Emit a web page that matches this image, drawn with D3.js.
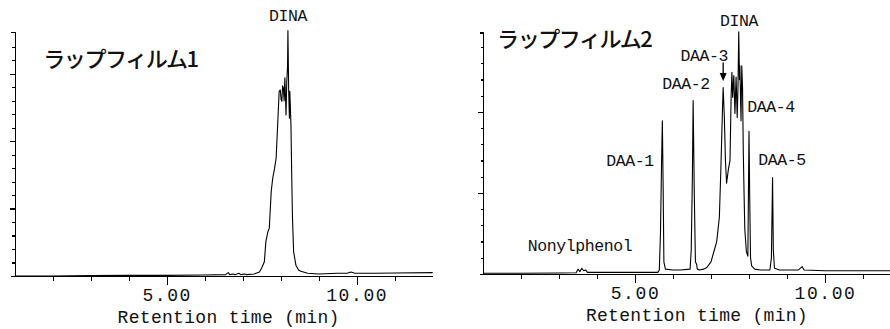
<!DOCTYPE html>
<html>
<head>
<meta charset="utf-8">
<title>ラップフィルム chromatograms</title>
<script src="https://cdn.jsdelivr.net/npm/d3@7"></script>
<style>
  body { margin: 0; background: #fff; }
  svg { display: block; }
  .trace { fill: none; stroke: #000; stroke-width: 1.1; stroke-linejoin: round; }
  .axis line, .axis path { stroke: #000; stroke-width: 1.2; shape-rendering: crispEdges; }
  .axis path { fill: none; }
  .mono { font-family: "Liberation Mono", "DejaVu Sans Mono", monospace; fill: #111; }
  .jp { font-family: "Noto Sans CJK JP", sans-serif; font-weight: 500; fill: #111; }
</style>
</head>
<body>
<script>
// ---- data (time in min, signal in arbitrary units) ----
const film1Time = [1, 2, 3, 4, 5, 6, 6.55, 6.62, 6.66, 6.75, 6.8, 6.9, 6.95, 7.05, 7.1, 7.3, 7.44, 7.5, 7.57, 7.61, 7.66, 7.7,
  7.75, 7.79, 7.84, 7.88, 7.92, 7.96, 7.99, 8.01, 8.03, 8.05, 8.07, 8.09, 8.11, 8.14, 8.16, 8.18, 8.19, 8.21, 8.23, 8.24,
  8.27, 8.29, 8.31, 8.34, 8.4, 8.47, 8.53, 8.71, 9, 9.5, 9.75, 9.85, 9.95, 10.5, 11, 12];
const film1Signal = [0, 0, 0.005, 0.01, 0.01, 0.015, 0.02, 0.05, 0.02, 0.03, 0.02, 0.04, 0.02, 0.03, 0.02, 0.03, 0.06, 0.12, 0.21, 0.51, 0.65, 0.71,
  1.25, 1.45, 1.6, 1.75, 2.24, 2.74, 2.76, 2.62, 2.59, 2.82, 2.79, 2.6, 2.94, 2.39, 2.89, 3.1, 3.64, 2.74, 2.34, 2.74,
  2.24, 1.5, 0.86, 0.36, 0.16, 0.09, 0.07, 0.04, 0.03, 0.04, 0.04, 0.06, 0.04, 0.04, 0.045, 0.05];

const film2Time = [1, 2, 3, 3.45, 3.5, 3.55, 3.6, 3.65, 3.7, 3.75, 4, 5, 5.6, 5.64, 5.67, 5.7, 5.72, 5.74, 5.76, 5.8, 6, 6.2,
  6.45, 6.48, 6.51, 6.53, 6.56, 6.59, 6.62, 6.64, 6.7, 6.8, 6.89, 7, 7.06, 7.15, 7.22, 7.26, 7.3, 7.32, 7.35, 7.38, 7.41,
  7.46, 7.5, 7.53, 7.55, 7.57, 7.6, 7.63, 7.66, 7.69, 7.71, 7.73, 7.75, 7.76, 7.79, 7.81, 7.83, 7.85, 7.87, 7.89, 7.93,
  7.97, 8, 8.02, 8.04, 8.07, 8.15, 8.3, 8.55, 8.59, 8.62, 8.64, 8.67, 8.8, 9.3, 9.4, 9.45, 10, 11, 12];
const film2Signal = [0.01, 0.01, 0.012, 0.015, 0.06, 0.03, 0.07, 0.04, 0.05, 0.02, 0.02, 0.02, 0.02, 0.05, 0.5, 1.4, 1.89, 1.1, 0.15, 0.06, 0.05, 0.05,
  0.06, 0.3, 1.2, 2.14, 1.0, 0.15, 0.12, 0.06, 0.05, 0.06, 0.08, 0.15, 0.25, 0.4, 0.7, 1.3, 2.0, 2.3, 1.95, 1.4, 1.12,
  1.3, 1.4, 2.2, 2.49, 2.18, 2.45, 1.98, 2.43, 1.93, 2.3, 2.99, 2.4, 2.57, 1.89, 2.57, 2.3, 1.5, 1.0, 0.55, 0.28,
  0.22, 1.76, 0.9, 0.2, 0.1, 0.06, 0.05, 0.05, 0.2, 1.19, 0.3, 0.07, 0.05, 0.05, 0.09, 0.05, 0.04, 0.04, 0.04];

const film1Labels = ["DINA"];
const film1LabelTime = [8.19];
const film1LabelSignal = [3.85];

const film2Labels = ["DAA-1", "DAA-2", "DAA-3", "DINA", "DAA-4", "DAA-5", "Nonylphenol"];
const film2LabelTime = [4.87, 6.34, 6.82, 7.74, 8.58, 8.87, 3.55];
const film2LabelSignal = [1.39, 2.34, 2.68, 3.12, 2.05, 1.40, 0.34];

const titles = ["ラップフィルム1", "ラップフィルム2"];
const titleTime = [1.75, 1.37];
const titleSignal = [3.25, 2.92];

const xMinorTicks = [2, 3, 4, 6, 7, 8, 9, 11];
const xMajorTicks = [5, 10];
const xTickLabels = ["5.00", "10.00"];
const xAxisTitle = "Retention time (min)";
const timeDomain = [1, 12];

const W = 890, H = 329;
const svg = d3.select("body").append("svg").attr("width", W).attr("height", H);

function panel(opts) {
  const x = d3.scaleLinear().domain(timeDomain).range(opts.xRange);
  const y = d3.scaleLinear().domain([0, opts.yMax]).range([opts.base, opts.top]);
  const g = svg.append("g");

  // y axis: minor ticks every 0.2, longer ticks at integers
  const yMinor = d3.range(0.2, opts.yMax - 0.05, 0.2).filter(v => Math.abs(v - Math.round(v)) > 0.01);
  const yMajor = d3.range(1, opts.yMax, 1);
  g.append("g").attr("class", "axis").attr("transform", `translate(${opts.xRange[0]},0)`)
    .call(d3.axisLeft(y).tickValues(yMinor).tickSize(2.5).tickFormat("").tickSizeOuter(3.5));
  g.append("g").attr("class", "axis").attr("transform", `translate(${opts.xRange[0]},0)`)
    .call(d3.axisLeft(y).tickValues(yMajor).tickSize(5).tickFormat("").tickSizeOuter(0));

  // x axis
  g.append("g").attr("class", "axis").attr("transform", `translate(0,${opts.base})`)
    .call(d3.axisBottom(x).tickValues(xMinorTicks).tickSize(5).tickFormat("").tickSizeOuter(0));
  const xa = g.append("g").attr("class", "axis").attr("transform", `translate(0,${opts.base})`)
    .call(d3.axisBottom(x).tickValues(xMajorTicks).tickSize(9).tickSizeOuter(0)
      .tickFormat((d, i) => xTickLabels[i]));
  xa.select(".domain").remove();
  xa.selectAll("text").attr("class", "mono").attr("y", 25).attr("dy", 0)
    .style("font-size", "18px").style("letter-spacing", "1.6px").attr("fill", "#111");

  g.append("text").attr("class", "mono")
    .attr("x", x(6.63)).attr("y", opts.base + 47)
    .attr("text-anchor", "middle")
    .style("font-size", "18px").style("letter-spacing", "0.3px")
    .text(xAxisTitle);

  // chromatogram trace
  const line = d3.line().x(i => x(opts.time[i])).y(i => y(opts.signal[i]));
  g.append("path").attr("class", "trace").attr("d", line(d3.range(opts.time.length)));

  // panel title
  g.append("text").attr("class", "jp")
    .attr("x", x(titleTime[opts.idx])).attr("y", y(titleSignal[opts.idx]))
    .attr("dominant-baseline", "central")
    .style("font-size", "22px").style("letter-spacing", "-1.4px")
    .text(titles[opts.idx]);

  // peak labels
  opts.labels.forEach((lab, i) => {
    g.append("text").attr("class", "mono")
      .attr("x", x(opts.labelTime[i])).attr("y", y(opts.labelSignal[i]))
      .attr("text-anchor", "middle").attr("dominant-baseline", "central")
      .style("font-size", "16.5px").style("letter-spacing", "-0.4px")
      .text(lab);
  });
  return { x, y, g };
}

panel({ idx: 0, xRange: [14.7, 432.7], base: 276, top: 32, yMax: 3.62,
  time: film1Time, signal: film1Signal,
  labels: film1Labels, labelTime: film1LabelTime, labelSignal: film1LabelSignal });

const p2 = panel({ idx: 1, xRange: [483, 901], base: 274, top: 32.5, yMax: 2.98,
  time: film2Time, signal: film2Signal,
  labels: film2Labels, labelTime: film2LabelTime, labelSignal: film2LabelSignal });

// arrow pointing at DAA-3
const ax = p2.x(7.32), ay0 = p2.y(2.61), ay1 = p2.y(2.38);
p2.g.append("line").attr("x1", ax).attr("x2", ax).attr("y1", ay0).attr("y2", ay1 - 6)
  .attr("stroke", "#000").attr("stroke-width", 1.3);
p2.g.append("path")
  .attr("d", `M${ax - 3.5},${ay1 - 8} L${ax + 3.5},${ay1 - 8} L${ax},${ay1} Z`)
  .attr("fill", "#000");
</script>
</body>
</html>
